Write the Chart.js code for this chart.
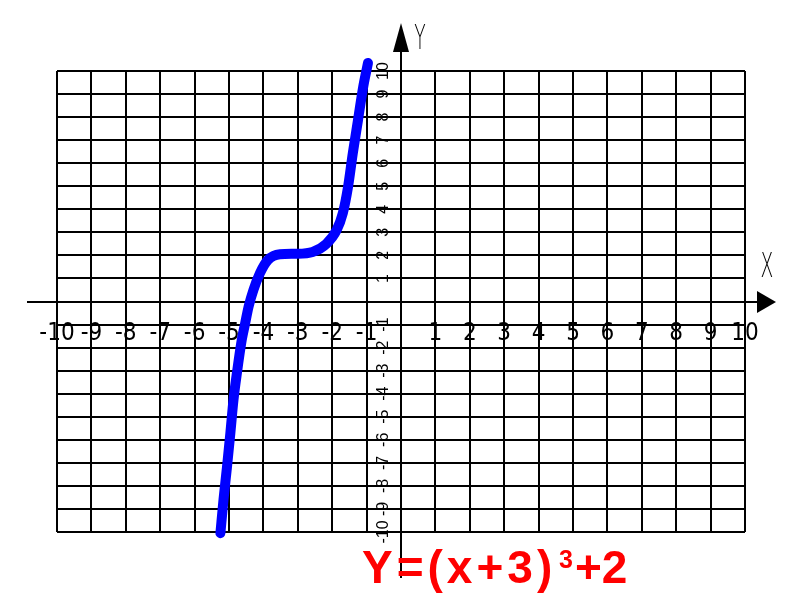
<!DOCTYPE html>
<html><head><meta charset="utf-8">
<script src="https://cdn.jsdelivr.net/npm/chart.js@4/dist/chart.umd.min.js"></script>
<style>html,body{margin:0;padding:0;background:#fff}#wrap{width:800px;height:600px}</style>
</head><body><div id="wrap"><canvas id="c" width="800" height="600"></canvas></div>
<script>
const xTickValues = [-10,-9,-8,-7,-6,-5,-4,-3,-2,-1,1,2,3,4,5,6,7,8,9,10];
const xTickLabels = ['-10','-9','-8','-7','-6','-5','-4','-3','-2','-1','1','2','3','4','5','6','7','8','9','10'];
const yTickValues = [10,9,8,7,6,5,4,3,2,1,-1,-2,-3,-4,-5,-6,-7,-8,-9,-10];
const yTickLabels = ['10','9','8','7','6','5','4','3','2','1','-1','-2','-3','-4','-5','-6','-7','-8','-9','-10'];
const curveX = [-5.25,-5.16,-5.06,-4.96,-4.87,-4.77,-4.63,-4.53,-4.43,-4.29,-4.10,-3.87,-3.52,-3.05,-2.57,-2.17,-1.87,-1.69,-1.54,-1.40,-1.25,-1.10,-0.96];
const curveY = [-10.05,-8.6,-7.2,-5.7,-4.27,-3.1,-1.67,-0.94,-0.22,0.5,1.23,1.8,2.05,2.07,2.15,2.5,3.1,3.84,4.97,6.44,7.87,9.3,10.35];
const titleMain = 'Y=(x+3)';
const titleExp = '3';
const titleTail = '+2';
const xAxisName = 'X';
const yAxisName = 'Y';

const axesPlugin = {
  id: 'axesPlugin',
  beforeDatasetsDraw(chart) {
    const c = chart.ctx, xs = chart.scales.x, ys = chart.scales.y;
    const y0 = Math.round(ys.getPixelForValue(0));
    const x0 = Math.round(xs.getPixelForValue(0));
    c.save();
    c.strokeStyle = '#000'; c.fillStyle = '#000'; c.lineWidth = 2;
    c.beginPath(); c.moveTo(27, y0); c.lineTo(760, y0); c.stroke();
    c.beginPath(); c.moveTo(757, y0 - 11); c.lineTo(776, y0); c.lineTo(757, y0 + 11); c.closePath(); c.fill();
    c.beginPath(); c.moveTo(x0, 50); c.lineTo(x0, 578); c.stroke();
    c.beginPath(); c.moveTo(x0, 23); c.lineTo(x0 + 8, 52); c.lineTo(x0 - 8, 52); c.closePath(); c.fill();
    c.restore();
  },
  afterDraw(chart) {
    const c = chart.ctx, xs = chart.scales.x, ys = chart.scales.y;
    const x0 = xs.getPixelForValue(0);
    c.save();
    c.fillStyle = '#000';
    c.font = '300 34px "DejaVu Sans"';
    c.textAlign = 'center'; c.textBaseline = 'middle';
    c.save(); c.translate(767, 268); c.scale(0.55, 1); c.fillText(xAxisName, 0, 0); c.restore();
    c.save(); c.translate(420, 40); c.scale(0.55, 1); c.fillText(yAxisName, 0, 0); c.restore();
    c.font = '16px "Liberation Sans"';
    yTickValues.forEach((v, i) => {
      const py = ys.getPixelForValue(v);
      c.save(); c.translate(x0 - 17, py); c.rotate(-Math.PI / 2);
      c.fillText(yTickLabels[i], 0, 0); c.restore();
    });
    c.fillStyle = '#ff0000';
    c.textAlign = 'left'; c.textBaseline = 'alphabetic';
    c.font = 'bold 46px "Liberation Sans"';
    if ('letterSpacing' in c) c.letterSpacing = '4px';
    c.fillText(titleMain, 362, 583);
    if ('letterSpacing' in c) c.letterSpacing = '0px';
    c.font = 'bold 25px "Liberation Sans"';
    c.fillText(titleExp, 559, 568);
    c.font = 'bold 46px "Liberation Sans"';
    c.fillText(titleTail, 575, 583);
    c.restore();
  }
};

const ctx = document.getElementById('c').getContext('2d');
new Chart(ctx, {
  type: 'scatter',
  data: {
    datasets: [{
      data: curveX.map((x, i) => ({ x: x, y: curveY[i] })),
      showLine: true,
      borderColor: '#0000ff',
      backgroundColor: '#0000ff',
      borderWidth: 10,
      pointRadius: 0,
      cubicInterpolationMode: 'monotone',
      borderCapStyle: 'round',
      borderJoinStyle: 'round',
      clip: false
    }]
  },
  options: {
    responsive: false,
    animation: false,
    devicePixelRatio: 1,
    layout: { padding: { left: 57, right: 55, top: 71, bottom: 68 } },
    plugins: { legend: { display: false }, tooltip: { enabled: false }, title: { display: false } },
    scales: {
      x: {
        type: 'linear', min: -10, max: 10, position: { y: 0 },
        ticks: {
          stepSize: 1, autoSkip: false, maxRotation: 0, minRotation: 0, padding: 18, color: '#000',
          font: { family: '"Liberation Sans Narrow", "DejaVu Sans Condensed", "Liberation Sans"', size: 24 },
          callback: (v) => { const i = xTickValues.indexOf(v); return i < 0 ? '' : xTickLabels[i]; }
        },
        grid: { color: '#000', lineWidth: 2, drawTicks: false },
        border: { display: false }
      },
      y: {
        type: 'linear', min: -10, max: 10, position: { x: 0 },
        ticks: { stepSize: 1, display: false },
        grid: { color: '#000', lineWidth: 2, drawTicks: false },
        border: { display: false }
      }
    }
  },
  plugins: [axesPlugin]
});
</script>
</body></html>
